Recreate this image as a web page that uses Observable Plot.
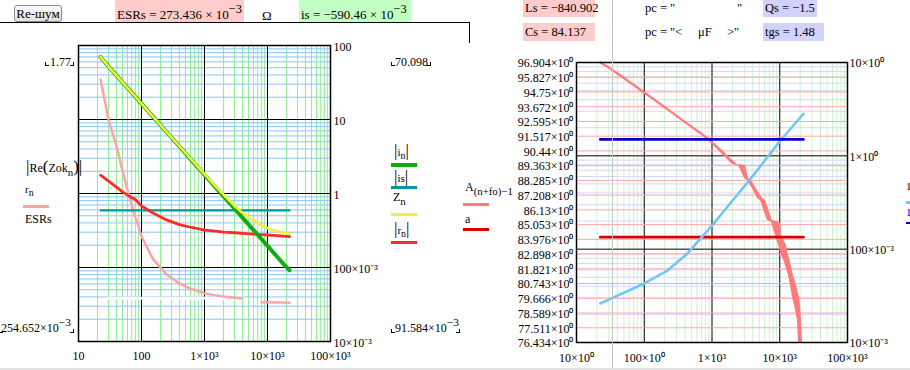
<!DOCTYPE html>
<html><head><meta charset="utf-8">
<script src="https://cdn.jsdelivr.net/npm/d3@7"></script>
<script src="https://cdn.jsdelivr.net/npm/@observablehq/plot@0.6"></script>
<style>
html,body{margin:0;padding:0;background:#fff;}
#root{position:relative;width:910px;height:370px;overflow:hidden;font-family:"Liberation Serif","Times New Roman",serif;font-size:12.5px;color:#000;}
.abs{position:absolute;white-space:pre;line-height:1;}
.blk{position:absolute;}
sup{font-size:0.95em;vertical-align:0.5em;line-height:0;}
sub{font-size:0.9em;vertical-align:-0.35em;line-height:0;}
.big{font-size:17px;}
</style></head><body><div id="root"></div>
<script>
// ---------- data ----------
const ESRs_txt = "273.436";
const is_txt = "−590.46";
const Ls_txt = "−840.902";
const Cs_val = 84.137;
const Qs_val = -1.5;
const tgs_txt = "1.48";
const is_abs = 0.59046;

// left chart (log-log)
const freqL = [22.4,30,40,50,60,80,100,150,250,400,600,1000,1500,2000,3000,4000,6000,8000,10000,14000,18000,22400];
const i_n   = [70.1,52.0,39.5,31.9,26.7,20.3,16.4,11.1,6.78,4.32,2.92,1.79,1.21,0.92,0.622,0.472,0.320,0.243,0.196,0.142,0.111,0.0916];
const Z_n   = [70.1,52.0,39.5,31.9,26.7,20.3,16.4,11.1,6.8,4.35,2.96,1.83,1.25,0.97,0.68,0.55,0.43,0.37,0.34,0.31,0.295,0.285];
const r_n   = [1.77,1.47,1.22,1.05,0.95,0.83,0.68,0.55,0.44,0.38,0.35,0.32,0.31,0.30,0.295,0.29,0.283,0.278,0.275,0.27,0.265,0.262];
const rOverESRs = [34.8,9.9,4.4,2.04,1.11,0.475,0.265,0.132,0.0805,0.0608,0.052,0.0447,0.042,0.0405,0.039,0.038,NaN,0.0339,0.0338,0.0337,0.0336,0.0335];
const freqReZok = [29,4150];
const ReZok = [0.0385,0.0385];
const ticksXL = [10,100,1000,10000,100000];
const labelsXL = ["10","100","1×10³","10×10³","100×10³"];
const ticksYL = [100,10,1,0.1,0.01];
const labelsYL = ["100","10","1","100×10⁻³","10×10⁻³"];

// right chart
const freqA = [22.4,30,50,100,200,400,676,950];
const A_line = [96.904,96.54,95.77,94.71,93.64,92.55,91.74,91.2];
const A_band_v  = [91.20,90.47,89.89,89.45,89.37,88.42,88.28,87.55,86.96,86.82,85.94,85.35,85.21,84.26,83.53,82.80,82.28,81.33,80.60,79.73,79.14,78.04,76.434];
const A_band_lo = [888,1247,1637,2008,2461,3018,3342,4099,4695,5200,5956,6595,7553,8656,9584,10610,11750,13460,14410,15420,16510,18280,18920];
const A_band_hi = [983,1429,1876,2379,3123,3457,3828,4695,5566,6162,7061,7817,10260,10610,12580,13460,14410,15960,17670,19560,20240,20940,21670];
const freqQ = [22.4,50,100,220,435,676,1000,2000,3700,10260,18400,22400];
const Q_n   = [0.0262,0.0341,0.0429,0.059,0.090,0.130,0.179,0.33,0.567,1.46,2.39,2.82];
const freqSpan = [22.4,22400];
const ticksA = [96.904,95.827,94.75,93.672,92.595,91.517,90.44,89.363,88.285,87.208,86.13,85.053,83.976,82.898,81.821,80.743,79.666,78.589,77.511,76.434];
const ticksQ = [10,1,0.1,0.01];
const labelsQ = ["10×10⁰","1×10⁰","100×10⁻³","10×10⁻³"];
const ticksXR = [10,100,1000,10000,100000];
const labelsXR = ["10×10⁰","100×10⁰","1×10³","10×10³","100×10³"];

// ---------- helpers ----------
const root = document.getElementById("root");
const rows = (xs, ys) => xs.map((x, i) => ({x, y: ys[i]}));
function minors(decs){const out=[];for(const d of decs)for(let k=2;k<=9;k++)out.push(k*d);return out;}
const fmt = (ticks, labels) => d => { const i = ticks.findIndex(t => Math.abs(t - d) < 1e-9 * Math.max(1, t)); return i >= 0 ? labels[i] : ""; };
function place(svg, left, top){svg.style.position="absolute";svg.style.left=left+"px";svg.style.top=top+"px";svg.style.maxWidth="none";root.appendChild(svg);}
function put(html, x, y, css){const d=document.createElement("div");d.className="abs";d.style.left=x+"px";d.style.top=y+"px";if(css)d.style.cssText+=css;d.innerHTML=html;root.appendChild(d);return d;}
function rect(x,y,w,h,color,css){const d=document.createElement("div");d.className="blk";d.style.cssText=`left:${x}px;top:${y}px;width:${w}px;height:${h}px;background:${color};`+(css||"");root.appendChild(d);return d;}
function corner(x,y,side){rect(x,y,3,3,"transparent",`border-bottom:1px solid #000;border-${side}:1px solid #000;`);}

const baseStyle = {fontFamily:"'Liberation Serif','Times New Roman',serif", fontSize:"12px", background:"transparent", overflow:"visible", color:"#000"};

// ---------- left chart ----------
const left = Plot.plot({
  width: 470, height: 370,
  marginLeft: 78, marginRight: 140, marginTop: 45, marginBottom: 29,
  x: {type:"log", domain:[10,1e5], axis:null},
  y: {type:"log", domain:[0.01,100], axis:null},
  style: baseStyle,
  marks: [
    Plot.gridX(minors([10,100,1000,10000]), {stroke:"#8ef08e", strokeOpacity:1}),
    Plot.gridY(minors([0.01,0.1,1,10]), {stroke:"#88c4f4", strokeOpacity:1}),
    Plot.gridX([100,1000,10000], {stroke:"#000", strokeOpacity:1}),
    Plot.gridY([0.1,1,10], {stroke:"#000", strokeOpacity:1}),
    Plot.line(rows(freqReZok, ReZok), {x:"x", y:"y", stroke:"#fff", strokeWidth:3}),
    Plot.line(rows(freqL, rOverESRs), {x:"x", y:"y", stroke:"#ffa4a4", strokeWidth:2.5}),
    Plot.line(rows(freqSpan, [is_abs, is_abs]), {x:"x", y:"y", stroke:"#009b9b", strokeWidth:2.2}),
    Plot.line(rows(freqL, r_n), {x:"x", y:"y", stroke:"#ff2a2a", strokeWidth:2.8}),
    Plot.line(rows(freqL, i_n), {x:"x", y:"y", stroke:"#0fae0f", strokeWidth:4}),
    Plot.line(rows(freqL, Z_n), {x:"x", y:"y", stroke:"#f2f03c", strokeWidth:2.6}),
    Plot.frame({stroke:"#000", strokeWidth:1.5}),
    Plot.axisX({ticks: ticksXL, tickFormat: fmt(ticksXL, labelsXL), tickSize:0, tickPadding:10, anchor:"bottom", label:null}),
    Plot.axisY({ticks: ticksYL, tickFormat: fmt(ticksYL, labelsYL), tickSize:0, tickPadding:3, anchor:"right", dy:2, label:null})
  ]
});
place(left, 0, 0);

// ---------- right chart (three layers sharing x) ----------
const common = {width:440, height:370, marginLeft:106, marginRight:63, marginTop:62, marginBottom:28, style: baseStyle};
const xR = {type:"log", domain:[10,1e5], axis:null};
const layer1 = Plot.plot({...common, x:xR, y:{type:"log", domain:[0.01,10], axis:null}, marks:[
  Plot.gridX(minors([10,100,1000,10000]), {stroke:"#cdf3cd", strokeOpacity:1}),
  Plot.gridY(minors([0.01,0.1,1]), {stroke:"#d6d6f6", strokeOpacity:1}),
  Plot.gridX([100,1000,10000], {stroke:"#000", strokeOpacity:1}),
  Plot.gridY([0.1,1], {stroke:"#000", strokeOpacity:1})
]});
place(layer1, 470, 0);
const layer2 = Plot.plot({...common, x:xR, y:{type:"linear", domain:[76.434,96.904], axis:null}, marks:[
  Plot.gridY(ticksA, {stroke:"#ffa6a6", strokeOpacity:1}),
  Plot.line(rows(freqA, A_line), {x:"x", y:"y", stroke:"#ff7a7a", strokeWidth:2.2}),
  Plot.areaX(A_band_v.map((v,i)=>({v, lo:A_band_lo[i], hi:A_band_hi[i]})), {y:"v", x1:"lo", x2:"hi", fill:"#ff7a7a"}),
  Plot.line(rows(freqSpan, [Cs_val, Cs_val]), {x:"x", y:"y", stroke:"#d40000", strokeWidth:2.6}),
  Plot.axisY({ticks: ticksA, tickFormat: d => `${d}×10⁰`, tickSize:0, tickPadding:3, anchor:"left", dy:1, label:null})
]});
place(layer2, 470, 0);
const layer3 = Plot.plot({...common, x:xR, y:{type:"log", domain:[0.01,10], axis:null}, marks:[
  Plot.line(rows(freqQ, Q_n), {x:"x", y:"y", stroke:"#72c6f4", strokeWidth:2.6}),
  Plot.line(rows(freqSpan, [Math.abs(Qs_val), Math.abs(Qs_val)]), {x:"x", y:"y", stroke:"#0000c4", strokeWidth:2.6}),
  Plot.frame({stroke:"#000", strokeWidth:1.5}),
  Plot.axisX({ticks: ticksXR, tickFormat: fmt(ticksXR, labelsXR), tickSize:0, tickPadding:11, anchor:"bottom", label:null}),
  Plot.axisY({ticks: ticksQ, tickFormat: fmt(ticksQ, labelsQ), tickSize:0, tickPadding:2, anchor:"right", dy:1, label:null})
]});
place(layer3, 470, 0);

// ---------- Mathcad worksheet text ----------
// top-left
put("Re-шум", 14, 5, "width:46px;height:15px;border:1px solid #8a8a8a;border-radius:3px;background:linear-gradient(#fbfbfb,#e2e2e2);text-align:center;line-height:15px;font-size:13px;");
rect(115,0,129,22,"#ffcccc");
put(`ESRs = ${ESRs_txt} × 10<sup>−3</sup>`, 117, 8, "font-size:13px;");
put("Ω", 262, 9, "font-size:13px;");
rect(299,0,112,22,"#c2ffc2");
put(`is = ${is_txt} × 10<sup>−3</sup>`, 301, 8, "font-size:13px;");
rect(0,22,470,1,"#000");
rect(469,22,1,21,"#000");

// top-right
rect(523,0,72,17,"#ffcccc");
put(`Ls = ${Ls_txt}`, 525, 2);
rect(523,23,72,18,"#ffcccc");
put(`Cs = ${Cs_val}`, 525, 26);
put('pc = "', 645, 2); put('"', 737, 2);
put('pc = "&lt;', 645, 26); put('μF', 698, 26); put('&gt;"', 727, 26);
rect(763,0,54,17,"#d2d2ff");
put(`Qs = ${String(Qs_val).replace("-","−")}`, 765, 2);
rect(763,23,61,18,"#d2d2ff");
put(`tgs = ${tgs_txt}`, 765, 26);

// left chart limit labels
put("1.77", 50, 56, "font-size:12px;"); corner(45,62,"left"); corner(70,62,"right");
put("254.652×10<sup>−3</sup>", 1, 322, "font-size:12px;"); corner(-1,329,"left"); corner(70,329,"right");
put("70.098", 395, 56, "font-size:12px;"); corner(391,62,"left"); corner(427,62,"right");
put("91.584×10<sup>−3</sup>", 395, 322, "font-size:12px;"); corner(391,329,"left"); corner(456,329,"right");

// left legend
put('<span class="big">|</span>Re<span class="big">(</span>Zok<sub>n</sub><span class="big">)</span><span class="big">|</span>', 26, 158, "font-size:12px;");
put("r<sub>n</sub>", 25, 184, "font-size:11px;");
rect(23,205,26,2.5,"#ffa4a4");
put("ESRs", 25, 213, "font-size:12px;");

// right legend of left chart
put('<span class="big">|</span>i<sub>n</sub><span class="big">|</span>', 394, 142, "font-size:11px;");
rect(391,163,26,4,"#0fae0f");
put('<span class="big">|</span>is<span class="big">|</span>', 394, 168, "font-size:11px;");
rect(391,186,26,2.5,"#009b9b");
put("Z<sub>n</sub>", 393, 191, "font-size:12px;");
rect(391,213,26,3,"#f2f03c");
put('<span class="big">|</span>r<sub>n</sub><span class="big">|</span>', 394, 220, "font-size:11px;");
rect(391,241,26,3,"#ff2a2a");

// left legend of right chart
put("A<sub>(n+fo)−1</sub>", 465, 181, "font-size:12px;");
rect(463,203,26,2.5,"#ff7a7a");
put("a", 465, 213, "font-size:12px;");
rect(463,228,26,3,"#d40000");

// right legend of right chart (cut off)
put("1", 906, 181, "font-size:11px;");
rect(906,201,4,2.5,"#72c6f4");
put("1", 906, 207, "font-size:11px;color:#0000c4;");
rect(906,222,4,1.5,"#0000c4");

// region separators
rect(612,0,1,370,"#c4c4c4");
rect(0,368,910,2,"#e2e2e2");
</script></body></html>
